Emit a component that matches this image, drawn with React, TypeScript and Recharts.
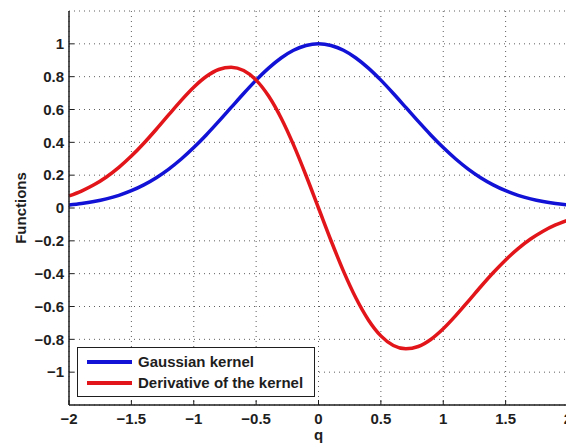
import React from 'react';
import {
  LineChart, Line, XAxis, YAxis, CartesianGrid, Legend,
} from 'recharts';

// sample points along q
const qValues = [
  -2, -1.9, -1.8, -1.7, -1.6, -1.5, -1.4, -1.3, -1.2, -1.1,
  -1, -0.9, -0.8, -0.7, -0.6, -0.5, -0.4, -0.3, -0.2, -0.1,
  0, 0.1, 0.2, 0.3, 0.4, 0.5, 0.6, 0.7, 0.8, 0.9,
  1, 1.1, 1.2, 1.3, 1.4, 1.5, 1.6, 1.7, 1.8, 1.9, 2,
];

const gaussian = [
  0.0183, 0.0271, 0.0392, 0.0556, 0.0773, 0.1054, 0.1409, 0.1845, 0.2369, 0.2982,
  0.3679, 0.4449, 0.5273, 0.6126, 0.6977, 0.7788, 0.8521, 0.9139, 0.9608, 0.99,
  1, 0.99, 0.9608, 0.9139, 0.8521, 0.7788, 0.6977, 0.6126, 0.5273, 0.4449,
  0.3679, 0.2982, 0.2369, 0.1845, 0.1409, 0.1054, 0.0773, 0.0556, 0.0392, 0.0271, 0.0183,
];

const derivative = [
  0.0733, 0.103, 0.1411, 0.189, 0.2474, 0.3162, 0.3945, 0.4797, 0.5686, 0.656,
  0.7358, 0.8008, 0.8437, 0.8576, 0.8372, 0.7788, 0.6817, 0.5483, 0.3843, 0.198,
  0, -0.198, -0.3843, -0.5483, -0.6817, -0.7788, -0.8372, -0.8576, -0.8437, -0.8008,
  -0.7358, -0.656, -0.5686, -0.4797, -0.3945, -0.3162, -0.2474, -0.189, -0.1411, -0.103, -0.0733,
];

const xTicks = [-2, -1.5, -1, -0.5, 0, 0.5, 1, 1.5, 2];
const yTicks = [-1, -0.8, -0.6, -0.4, -0.2, 0, 0.2, 0.4, 0.6, 0.8, 1];

const seriesNames = ['Gaussian kernel', 'Derivative of the kernel'];
const BLUE = '#1212d6';
const RED = '#e2161a';
const FONT = '"Liberation Sans", Arial, Helvetica, sans-serif';
const INK = '#1e1e1e';
const FS = 15;

const rows = qValues.map((q, i) => ({ q, gauss: gaussian[i], deriv: derivative[i] }));

const fmt = (v: number) => String(v).replace('-', '\u2212');

const X_MARGIN = 8;
const Y_MARGIN = 5;

function BottomTick({ x, y, payload }: any) {
  const axisY = y - X_MARGIN;
  return (
    <g>
      <line x1={x} x2={x} y1={axisY} y2={axisY - 5} stroke={INK} strokeWidth={1} />
      <text x={x} y={y} dy="0.71em" textAnchor="middle" fontFamily={FONT} fontWeight="bold" fontSize={FS} fill={INK}>
        {fmt(payload.value)}
      </text>
    </g>
  );
}

function TopTick({ x, y }: any) {
  return <line x1={x} x2={x} y1={y} y2={y + 5} stroke={INK} strokeWidth={1} />;
}

function LeftTick({ x, y, payload }: any) {
  const axisX = x + Y_MARGIN;
  return (
    <g>
      <line x1={axisX} x2={axisX + 5} y1={y} y2={y} stroke={INK} strokeWidth={1} />
      <text x={x} y={y} dy="0.355em" textAnchor="end" fontFamily={FONT} fontWeight="bold" fontSize={FS} fill={INK}>
        {fmt(payload.value)}
      </text>
    </g>
  );
}

function LegendBox() {
  const colors = [BLUE, RED];
  return (
    <div
      style={{
        width: 236,
        height: 45,
        border: `1.5px solid ${INK}`,
        background: '#fff',
        boxSizing: 'content-box',
        fontFamily: FONT,
        fontWeight: 'bold',
        fontSize: FS,
        color: INK,
        padding: '3px 0 0 0',
      }}
    >
      {seriesNames.map((name, i) => (
        <div key={name} style={{ display: 'flex', alignItems: 'center', height: 21, paddingLeft: 9 }}>
          <span style={{ display: 'inline-block', width: 45, height: 4, background: colors[i], marginRight: 6 }} />
          <span>{name}</span>
        </div>
      ))}
    </div>
  );
}

export default function App() {
  return (
    <div style={{ position: 'fixed', left: 0, top: 0, width: 566, height: 445, overflow: 'hidden', background: '#fff' }}>
      <LineChart width={572} height={445} data={rows} margin={{ top: 11, right: 4, left: 0, bottom: 0 }}>
        <CartesianGrid stroke="#5e5e5e" strokeDasharray="1 4" />
        <XAxis
          dataKey="q"
          type="number"
          domain={[-2, 2]}
          ticks={xTicks}
          interval={0}
          height={40}
          tickSize={0}
          tickMargin={X_MARGIN}
          tick={<BottomTick />}
          axisLine={{ stroke: INK, strokeWidth: 1.5 }}
          tickLine={false}
          label={{
            content: ({ viewBox }: any) => (
              <text
                x={viewBox.x + viewBox.width / 2}
                y={viewBox.y + 35}
                textAnchor="middle"
                fontFamily={FONT}
                fontWeight="bold"
                fontSize={FS}
                fill={INK}
              >
                q
              </text>
            ),
          }}
        />
        <XAxis
          xAxisId="top"
          dataKey="q"
          type="number"
          orientation="top"
          domain={[-2, 2]}
          ticks={xTicks}
          interval={0}
          height={0}
          tickSize={0}
          tickMargin={0}
          tick={<TopTick />}
          axisLine={{ stroke: INK, strokeWidth: 1.5 }}
          tickLine={false}
        />
        <YAxis
          type="number"
          domain={[-1.2, 1.2]}
          ticks={yTicks}
          interval={0}
          width={69}
          tickSize={0}
          tickMargin={Y_MARGIN}
          tick={<LeftTick />}
          axisLine={{ stroke: INK, strokeWidth: 1.5 }}
          tickLine={false}
          label={{
            content: ({ viewBox }: any) => {
              const cx = viewBox.x + 20;
              const cy = viewBox.y + viewBox.height / 2;
              return (
                <text
                  x={cx}
                  y={cy}
                  transform={`rotate(-90 ${cx} ${cy})`}
                  textAnchor="middle"
                  dominantBaseline="central"
                  fontFamily={FONT}
                  fontWeight="bold"
                  fontSize={FS}
                  fill={INK}
                >
                  Functions
                </text>
              );
            },
          }}
        />
        <Line
          type="monotone"
          dataKey="gauss"
          name={seriesNames[0]}
          stroke={BLUE}
          strokeWidth={3.5}
          dot={false}
          activeDot={false}
          isAnimationActive={false}
        />
        <Line
          type="monotone"
          dataKey="deriv"
          name={seriesNames[1]}
          stroke={RED}
          strokeWidth={3.5}
          dot={false}
          activeDot={false}
          isAnimationActive={false}
        />
        <Legend
          layout="vertical"
          align="center"
          verticalAlign="middle"
          content={<LegendBox />}
          wrapperStyle={{ left: 77, top: 347, width: 'auto', height: 'auto' }}
        />
      </LineChart>
    </div>
  );
}
